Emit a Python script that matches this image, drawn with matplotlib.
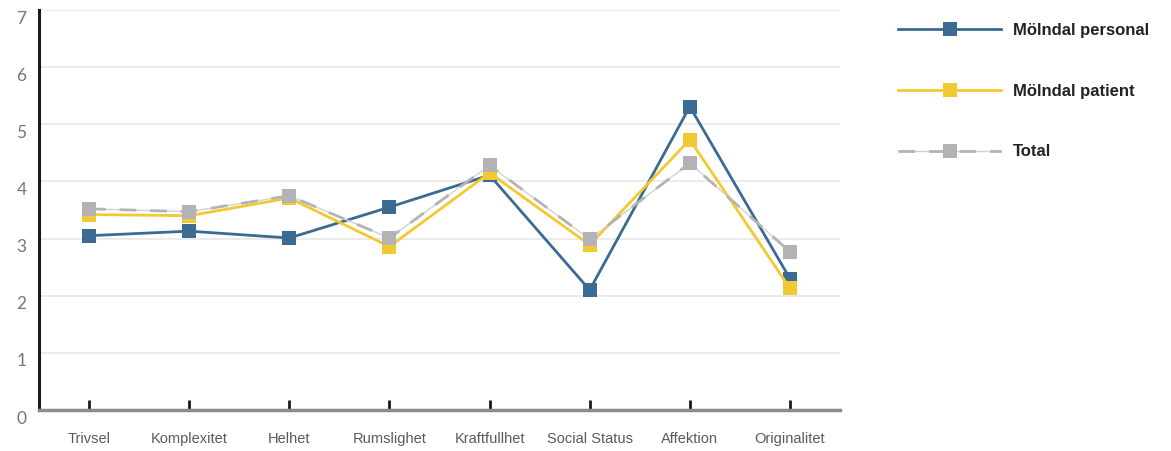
import matplotlib
matplotlib.use("Agg")
import matplotlib.pyplot as plt
import matplotlib.transforms as mtransforms
from matplotlib.lines import Line2D
import numpy as np

categories = ["Trivsel", "Komplexitet", "Helhet", "Rumslighet",
              "Kraftfullhet", "Social Status", "Affektion", "Originalitet"]
personal = [3.05, 3.13, 3.01, 3.55, 4.11, 2.10, 5.31, 2.30]
patient = [3.42, 3.40, 3.71, 2.86, 4.15, 2.89, 4.73, 2.13]
total = [3.52, 3.47, 3.75, 3.01, 4.28, 2.99, 4.32, 2.77]
series_names = ["Mölndal personal", "Mölndal patient", "Total"]
y_ticks = [0, 1, 2, 3, 4, 5, 6, 7]

BLUE = "#3b6a93"
YELLOW = "#f2c930"
GRAY = "#b3b3b6"
GRAY_LIGHT = "#d2d2d4"

fig = plt.figure(figsize=(11.71, 4.51), dpi=100)
ax = fig.add_axes([39 / 1171, 1 - 410 / 451, (840 - 39) / 1171, 400 / 451])

x = np.arange(len(categories))
mk = dict(marker="s", markersize=9.5, markeredgewidth=0)

ax.plot(x, personal, color=BLUE, lw=2, zorder=3, **mk)
ax.plot(x, patient, color=YELLOW, lw=2, zorder=4, **mk)
ax.plot(x, total, color=GRAY_LIGHT, lw=1, zorder=5)
ax.plot(x, total, color=GRAY, lw=2.0, dashes=(6, 5), zorder=5)
ax.plot(x, total, color=GRAY, lw=0, zorder=6, **mk)

ax.set_xlim(-0.5, 7.5)
ax.set_ylim(0, 7)
ax.set_yticks(y_ticks)
ax.grid(axis="y", color="#e8e8e8", lw=1.2, zorder=0)
ax.set_axisbelow(True)

for s in ["top", "right"]:
    ax.spines[s].set_visible(False)
ax.spines["left"].set_color("#1a1a1a")
ax.spines["left"].set_linewidth(2.2)
ax.spines["bottom"].set_color("#8c8c8c")
ax.spines["bottom"].set_linewidth(2.5)

ax.set_xticks(x)
ax.set_xticklabels(categories, family=["Liberation Sans Narrow", "Liberation Sans"],
                   fontsize=10.5, color="#5a5a5a")
ax.tick_params(axis="x", direction="in", length=7, width=2, color="#1a1a1a", pad=16)
ax.tick_params(axis="y", length=0, pad=9, labelsize=12.5, labelcolor="#777777")
for lab in ax.get_yticklabels():
    lab.set_family(["Lato", "DejaVu Sans"])
    lab.set_fontweight("normal")
    lab.set_transform(lab.get_transform() +
                      mtransforms.ScaledTranslation(0, -7 / 100, fig.dpi_scale_trans))

handles = [
    Line2D([], [], color=BLUE, lw=2, **mk),
    Line2D([], [], color=YELLOW, lw=2, **mk),
    (Line2D([], [], color=GRAY_LIGHT, lw=1),
     Line2D([], [], color=GRAY, lw=2.0, dashes=(6, 5)),
     Line2D([], [], color=GRAY, lw=0, **mk)),
]
leg = fig.legend(handles, series_names, loc="upper left",
                 bbox_to_anchor=(898 / 1171, 1 - 23 / 451),
                 frameon=False, handlelength=6.2, handletextpad=0.72,
                 labelspacing=2.74, borderpad=0, borderaxespad=0,
                 prop=dict(family="Liberation Sans", weight="bold", size=12))
for t in leg.get_texts():
    t.set_color("#222222")

fig.savefig("out.png", dpi=100)
